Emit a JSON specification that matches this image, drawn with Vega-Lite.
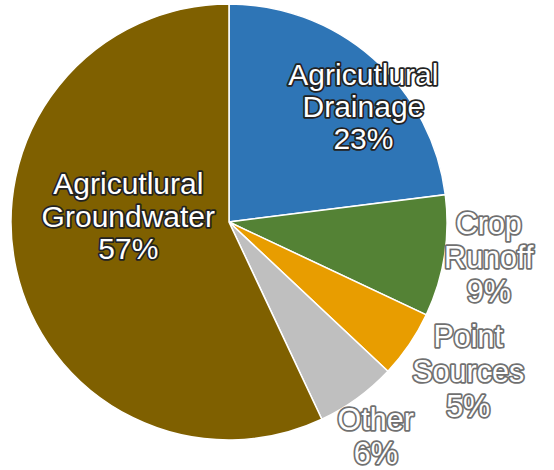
{
  "$schema": "https://vega.github.io/schema/vega-lite/v6.json",
  "width": 436,
  "height": 436,
  "autosize": "none",
  "padding": {"left": 11, "top": 4, "right": 107, "bottom": 30},
  "background": "white",
  "config": {"view": {"stroke": null}},
  "data": {
    "values": [
      {"rank": 1, "category": "Agricultural Drainage", "value": 23, "label": "Agricutlural\nDrainage\n23%"},
      {"rank": 2, "category": "Crop Runoff", "value": 9, "label": "Crop\nRunoff\n9%"},
      {"rank": 3, "category": "Point Sources", "value": 5, "label": "Point\nSources\n5%"},
      {"rank": 4, "category": "Other", "value": 6, "label": "Other\n6%"},
      {"rank": 5, "category": "Agricultural Groundwater", "value": 57, "label": "Agricutlural\nGroundwater\n57%"}
    ]
  },
  "transform": [
    {"stack": "value", "groupby": [], "sort": [{"field": "rank", "order": "ascending"}], "as": ["v0", "v1"]},
    {"calculate": "(datum.v0 + datum.v1) / 2", "as": "mid"}
  ],
  "layer": [
    {
      "mark": {"type": "arc", "outerRadius": 218, "stroke": "white", "strokeWidth": 1.5},
      "encoding": {
        "theta": {"field": "v0", "type": "quantitative", "scale": {"domain": [0, 100], "range": [0, 6.283185307]}},
        "theta2": {"field": "v1"},
        "color": {
          "field": "category", "type": "nominal", "legend": null,
          "scale": {
            "domain": ["Agricultural Drainage", "Crop Runoff", "Point Sources", "Other", "Agricultural Groundwater"],
            "range": ["#2E75B6", "#548235", "#E89D00", "#BFBFBF", "#7F6000"]
          }
        }
      }
    },
    {
      "transform": [{"filter": "datum.rank == 1"}],
      "mark": {"type": "text", "radius": 176, "dx": 18, "dy": -14, "fontSize": 30, "font": "Liberation Sans", "lineBreak": "\n", "lineHeight": 32, "align": "center", "baseline": "middle", "fill": "#222", "stroke": "#222", "strokeWidth": 3.5, "strokeJoin": "round"},
      "encoding": {"theta": {"field": "mid", "type": "quantitative"}, "text": {"field": "label"}}
    },
    {
      "transform": [{"filter": "datum.rank == 1"}],
      "mark": {"type": "text", "radius": 176, "dx": 18, "dy": -14, "fontSize": 30, "font": "Liberation Sans", "lineBreak": "\n", "lineHeight": 32, "align": "center", "baseline": "middle", "fill": "white"},
      "encoding": {"theta": {"field": "mid", "type": "quantitative"}, "text": {"field": "label"}}
    },
    {
      "transform": [{"filter": "datum.rank == 5"}],
      "mark": {"type": "text", "radius": 97, "dx": -6, "dy": -58, "fontSize": 30, "font": "Liberation Sans", "lineBreak": "\n", "lineHeight": 32.5, "align": "center", "baseline": "middle", "fill": "#222", "stroke": "#222", "strokeWidth": 3.5, "strokeJoin": "round"},
      "encoding": {"theta": {"field": "mid", "type": "quantitative"}, "text": {"field": "label"}}
    },
    {
      "transform": [{"filter": "datum.rank == 5"}],
      "mark": {"type": "text", "radius": 97, "dx": -6, "dy": -58, "fontSize": 30, "font": "Liberation Sans", "lineBreak": "\n", "lineHeight": 32.5, "align": "center", "baseline": "middle", "fill": "white"},
      "encoding": {"theta": {"field": "mid", "type": "quantitative"}, "text": {"field": "label"}}
    },
    {
      "transform": [{"filter": "datum.rank == 2"}],
      "mark": {"type": "text", "radius": 263, "dx": 0, "dy": -38, "fontSize": 30.5, "font": "Liberation Sans", "lineBreak": "\n", "lineHeight": 34, "align": "center", "baseline": "middle", "fill": "#707070", "stroke": "#707070", "strokeWidth": 3.5, "strokeJoin": "round"},
      "encoding": {"theta": {"field": "mid", "type": "quantitative"}, "text": {"field": "label"}}
    },
    {
      "transform": [{"filter": "datum.rank == 2"}],
      "mark": {"type": "text", "radius": 263, "dx": 0, "dy": -38, "fontSize": 30.5, "font": "Liberation Sans", "lineBreak": "\n", "lineHeight": 34, "align": "center", "baseline": "middle", "fill": "white"},
      "encoding": {"theta": {"field": "mid", "type": "quantitative"}, "text": {"field": "label"}}
    },
    {
      "transform": [{"filter": "datum.rank == 3"}],
      "mark": {"type": "text", "radius": 288, "dx": 1, "dy": -46, "fontSize": 30.5, "font": "Liberation Sans", "lineBreak": "\n", "lineHeight": 35, "align": "center", "baseline": "middle", "fill": "#707070", "stroke": "#707070", "strokeWidth": 3.5, "strokeJoin": "round"},
      "encoding": {"theta": {"field": "mid", "type": "quantitative"}, "text": {"field": "label"}}
    },
    {
      "transform": [{"filter": "datum.rank == 3"}],
      "mark": {"type": "text", "radius": 288, "dx": 1, "dy": -46, "fontSize": 30.5, "font": "Liberation Sans", "lineBreak": "\n", "lineHeight": 35, "align": "center", "baseline": "middle", "fill": "white"},
      "encoding": {"theta": {"field": "mid", "type": "quantitative"}, "text": {"field": "label"}}
    },
    {
      "transform": [{"filter": "datum.rank == 4"}],
      "mark": {"type": "text", "radius": 253, "dx": -2, "dy": -6, "fontSize": 30.5, "font": "Liberation Sans", "lineBreak": "\n", "lineHeight": 34, "align": "center", "baseline": "middle", "fill": "#707070", "stroke": "#707070", "strokeWidth": 3.5, "strokeJoin": "round"},
      "encoding": {"theta": {"field": "mid", "type": "quantitative"}, "text": {"field": "label"}}
    },
    {
      "transform": [{"filter": "datum.rank == 4"}],
      "mark": {"type": "text", "radius": 253, "dx": -2, "dy": -6, "fontSize": 30.5, "font": "Liberation Sans", "lineBreak": "\n", "lineHeight": 34, "align": "center", "baseline": "middle", "fill": "white"},
      "encoding": {"theta": {"field": "mid", "type": "quantitative"}, "text": {"field": "label"}}
    }
  ]
}
